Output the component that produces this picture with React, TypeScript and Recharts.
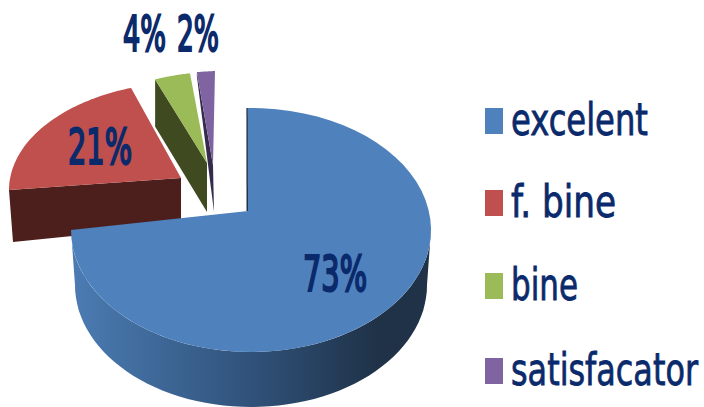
import { Legend, Pie, PieChart } from "recharts";

const categories = ["excelent", "f. bine", "bine", "satisfacator"];
const shares = [73, 21, 4, 2];
const colors = ["#4f81bd", "#c0504d", "#9bbb59", "#8064a2"];
const wallColors = ["#1f3248", "#4d1f1c", "#3f4a20", "#352b4d"];

const INK = "#0b2a6b";
const FONT = "'DejaVu Sans Condensed', 'DejaVu Sans', sans-serif";

// drawn back to front so the big slice covers the walls of the others
const rows = categories.map((name, i) => ({ name, value: shares[i], color: colors[i], wall: wallColors[i] })).reverse();

// faked 3d: every slice gets its own ellipse and tip, the sweep still comes from the pie
const SLICE: Record<string, any> = {
  excelent: { cx: 251, cy: 230, rx: 180, ry: 122, tip: [248, 211], tipDrop: [-1.5, 0], rimDrop: [-1.5, 0] },
  "f. bine": { cx: 190, cy: 190, rx: 181, ry: 108, tip: [181, 178], tipDrop: [0, 47], rimDrop: [4, 52] },
  bine: { cx: 216, cy: 208, rx: 187, ry: 136, tip: [207, 163], tipDrop: [0, 49], rimDrop: [0, 47] },
  satisfacator: { cx: 221, cy: 191, rx: 173, ry: 120, tip: [213, 165], tipDrop: [1, 47], rimDrop: [0, 4] },
};
const RIM = { cx: 251, cy: 285, rx: 176, ry: 122 };

// perspective squeeze of the angles, [pie angle, drawn angle]
const WARP = [
  [0, -1],
  [262.8, 270],
  [338.4, 341],
  [352.8, 352],
  [360, 358],
];

const LABELS: Record<string, any> = {
  excelent: { x: 303, y: 291, w: 64 },
  "f. bine": { x: 68, y: 164, w: 64 },
  bine: { x: 123, y: 51, w: 43 },
  satisfacator: { x: 177, y: 51, w: 42 },
};

const LEGEND_WIDTHS = [137, 105, 67, 187];
const LEGEND_ROWS = [108, 190, 273, 358];

function warp(t: number) {
  for (let i = 1; i < WARP.length; i++) {
    const [a0, b0] = WARP[i - 1];
    const [a1, b1] = WARP[i];
    if (t <= a1) return b0 + ((t - a0) / (a1 - a0)) * (b1 - b0);
  }
  return t;
}

function onEllipse(e: any, deg: number) {
  const r = (deg * Math.PI) / 180;
  return [e.cx + e.rx * Math.sin(r), e.cy - e.ry * Math.cos(r)];
}

function arc(e: any, from: number, to: number) {
  const pts = [];
  const n = 60;
  for (let i = 0; i <= n; i++) pts.push(onEllipse(e, from + ((to - from) * i) / n));
  return pts;
}

const toPath = (pts: number[][]) => "M" + pts.map((p) => p[0].toFixed(1) + "," + p[1].toFixed(1)).join("L") + "Z";

function SliceShape(props: any) {
  const name = props.name ?? props.payload?.name;
  const g = SLICE[name];
  const low = warp(450 - props.endAngle);
  const high = warp(450 - props.startAngle);
  const rimStart = onEllipse(g, low);
  const wall = [
    rimStart,
    g.tip,
    [g.tip[0] + g.tipDrop[0], g.tip[1] + g.tipDrop[1]],
    [rimStart[0] + g.rimDrop[0], rimStart[1] + g.rimDrop[1]],
  ];
  return (
    <g>
      {name === "excelent" && (
        <>
          <defs>
            <linearGradient id="rimShade" x1="0" y1="0" x2="1" y2="0">
              <stop offset="0" stopColor="#4b7cb3" />
              <stop offset="0.5" stopColor="#30527a" />
              <stop offset="0.85" stopColor="#1f3248" />
              <stop offset="1" stopColor="#1f3248" />
            </linearGradient>
          </defs>
          <path d={toPath([...arc(g, 90, 270), ...arc(RIM, 270, 90)])} fill="url(#rimShade)" />
        </>
      )}
      <path d={toPath(wall)} fill={props.wall} />
      <path d={toPath([g.tip, ...arc(g, low, high)])} fill={props.color} />
    </g>
  );
}

// squeezed tall type, scaled so the boxes stay honest
function TallText({ x, y, w, size, squeeze, weight, children }: any) {
  return (
    <text
      transform={`translate(${x},${y}) scale(${squeeze},1)`}
      fill={INK}
      stroke={INK}
      strokeWidth={weight}
      fontFamily={FONT}
      fontSize={size}
      textLength={w / squeeze}
      lengthAdjust="spacingAndGlyphs"
    >
      {children}
    </text>
  );
}

function SliceLabel(props: any) {
  const p = LABELS[props.name ?? props.payload?.name];
  return (
    <TallText x={p.x} y={p.y} w={p.w} size={49} squeeze={0.66} weight={2.2}>
      {Math.round(props.percent * 100)}%
    </TallText>
  );
}

function LegendBox() {
  return (
    <svg width={704} height={407} style={{ display: "block" }}>
      {categories.map((name, i) => (
        <g key={name}>
          <rect x={485} y={LEGEND_ROWS[i]} width={18} height={26} fill={colors[i]} />
          <TallText x={511} y={LEGEND_ROWS[i] + 27} w={LEGEND_WIDTHS[i]} size={45} squeeze={0.78} weight={0.8}>
            {name}
          </TallText>
        </g>
      ))}
    </svg>
  );
}

export default function App() {
  return (
    <div style={{ position: "absolute", left: 0, top: 0, width: 704, height: 407, overflow: "hidden", background: "#fff" }}>
      <PieChart width={704} height={407} margin={{ top: 0, right: 0, bottom: 0, left: 0 }}>
        <Pie
          data={rows}
          dataKey="value"
          nameKey="name"
          cx={251}
          cy={230}
          outerRadius={120}
          startAngle={90}
          endAngle={450}
          stroke="none"
          shape={SliceShape}
          label={SliceLabel}
          labelLine={false}
          isAnimationActive={false}
        />
        <Legend content={<LegendBox />} wrapperStyle={{ left: 0, top: 0, width: 704, height: 407, pointerEvents: "none" }} />
      </PieChart>
    </div>
  );
}
